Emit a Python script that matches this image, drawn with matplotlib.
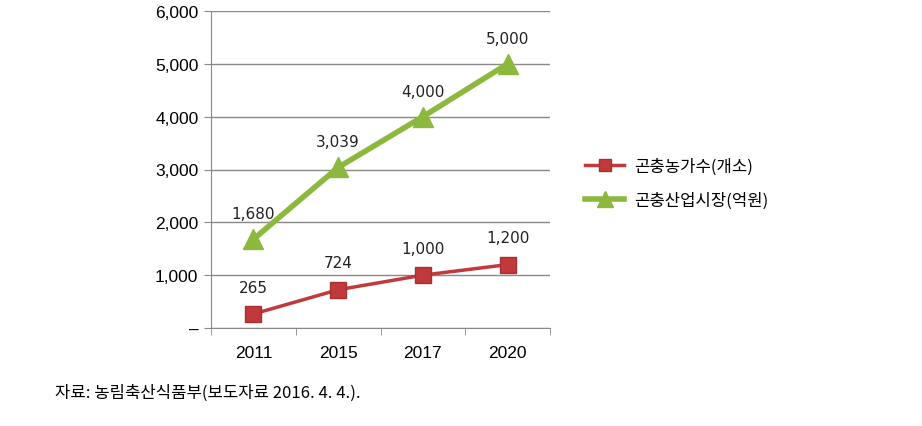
import matplotlib
matplotlib.use("Agg")
import matplotlib.pyplot as plt
from matplotlib.ticker import FuncFormatter

plt.rcParams['font.family'] = ['Noto Sans CJK KR', 'DejaVu Sans']

years = ['2011', '2015', '2017', '2020']
farms = [265, 724, 1000, 1200]
market = [1680, 3039, 4000, 5000]
farms_label = '곤충농가수(개소)'
market_label = '곤충산업시장(억원)'
source = '자료: 농림축산식품부(보도자료 2016. 4. 4.).'

red = '#C0393B'
green = '#8DB83E'

fig = plt.figure(figsize=(9.22, 4.27), dpi=100)
ax = fig.add_axes([211/922, 1-329/427, (550-211)/922, (329-12)/427])

x = list(range(len(years)))
l1, = ax.plot(x, farms, color=red, lw=2.5, marker='s', ms=11,
              markerfacecolor=red, markeredgecolor='#A83030', label=farms_label)
l2, = ax.plot(x, market, color=green, lw=4, marker='^', ms=15,
              markerfacecolor=green, markeredgecolor=green, label=market_label)

for xi, v in zip(x, farms):
    ax.annotate(f'{v:,}', (xi, v), xytext=(0, 14), textcoords='offset points',
                ha='center', va='bottom', fontsize=11, family='DejaVu Sans', color='#222222')
for xi, v in zip(x, market):
    ax.annotate(f'{v:,}', (xi, v), xytext=(0, 13), textcoords='offset points',
                ha='center', va='bottom', fontsize=11, family='DejaVu Sans', color='#222222')

ax.set_xlim(-0.5, len(years) - 0.5)
ax.set_ylim(0, 6000)
ax.set_yticks(range(0, 6001, 1000))
ax.yaxis.set_major_formatter(FuncFormatter(lambda v, p: '–' if v == 0 else f'{int(v):,}'))
ax.set_xticks(x)
ax.set_xticklabels(years)
ax.set_xticks([i - 0.5 for i in range(len(years) + 1)], minor=True)
ax.tick_params(axis='x', which='major', length=0, pad=12, labelsize=12.5)
ax.tick_params(axis='x', which='minor', length=5, color='#888888', direction='out')
ax.tick_params(axis='y', length=5, color='#888888', labelsize=12.5, pad=4)
for lab in ax.get_yticklabels() + ax.get_xticklabels():
    lab.set_family(['Liberation Sans', 'DejaVu Sans'])

ax.grid(axis='y', color='#888888', lw=1)
ax.set_axisbelow(True)
for s in ['top', 'right']:
    ax.spines[s].set_visible(False)
ax.spines['left'].set_color('#888888')
ax.spines['bottom'].set_color('#888888')

fig.legend(handles=[l1, l2], loc='upper left', bbox_to_anchor=(577/922, 1-150/427),
           frameon=False, fontsize=12, handlelength=2.3, labelspacing=1.0,
           borderpad=0, handletextpad=0.6, markerscale=0.8)

fig.text(55/922, 1-393/427, source, fontsize=12, va='center', ha='left')

fig.savefig('out.png', dpi=100)
